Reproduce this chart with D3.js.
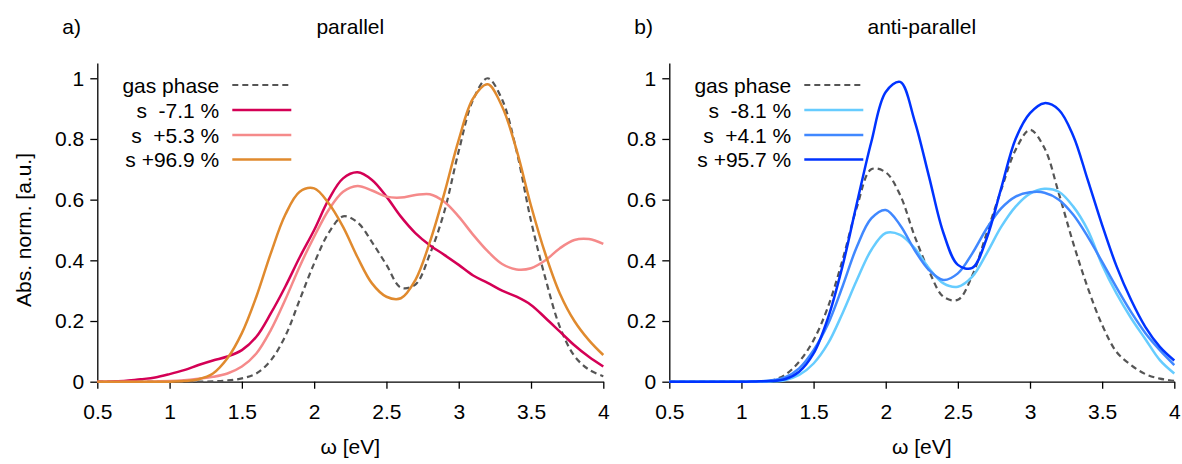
<!DOCTYPE html>
<html><head><meta charset="utf-8">
<script src="https://cdn.jsdelivr.net/npm/d3@7"></script>
<style>
body{margin:0;background:#fff}
text{font-family:"Liberation Sans",Arial,Helvetica,sans-serif;fill:#000}
</style>
</head><body>
<svg id="chart" width="1182" height="464"></svg>
<script>
// ---------- data ----------
const omega = [0.5,0.6,0.7,0.8,0.9,1.0,1.1,1.2,1.3,1.4,1.5,1.6,1.7,1.8,1.9,2.0,2.1,2.2,2.3,2.4,2.5,2.6,2.7,2.8,2.9,3.0,3.1,3.2,3.3,3.4,3.5,3.6,3.7,3.8,3.9,4.0];

const xTicks = [0.5,1,1.5,2,2.5,3,3.5,4];
const xTickLabels = ["0.5","1","1.5","2","2.5","3","3.5","4"];
const yTicks = [0,0.2,0.4,0.6,0.8,1];
const yTickLabels = ["0","0.2","0.4","0.6","0.8","1"];

// panel a) parallel
const parGas  = [0,0,0,0,0,0,0,0.0005,0.001,0.004,0.011,0.027,0.07,0.15,0.27,0.39,0.49,0.545,0.525,0.46,0.385,0.31,0.32,0.42,0.56,0.76,0.93,1.0,0.93,0.76,0.53,0.34,0.18,0.085,0.04,0.018];
const parM71  = [0,0.001,0.003,0.008,0.014,0.025,0.038,0.055,0.07,0.083,0.104,0.148,0.225,0.313,0.41,0.50,0.60,0.67,0.69,0.665,0.61,0.544,0.49,0.45,0.418,0.385,0.35,0.326,0.30,0.28,0.253,0.21,0.165,0.12,0.082,0.05];
const parP53  = [0,0,0,0,0.001,0.002,0.005,0.01,0.016,0.027,0.05,0.093,0.17,0.27,0.38,0.478,0.566,0.626,0.645,0.63,0.61,0.607,0.615,0.618,0.593,0.544,0.484,0.43,0.388,0.37,0.374,0.40,0.44,0.467,0.47,0.454];
const parP969 = [0,0,0,0,0,0,0.002,0.008,0.027,0.077,0.16,0.28,0.423,0.55,0.626,0.637,0.588,0.51,0.41,0.324,0.28,0.275,0.335,0.46,0.62,0.797,0.934,0.98,0.907,0.764,0.58,0.42,0.29,0.2,0.137,0.088];

// panel b) anti-parallel
const antiGas  = [0,0,0,0,0,0,0,0.003,0.022,0.066,0.137,0.247,0.40,0.575,0.70,0.69,0.615,0.48,0.365,0.28,0.27,0.35,0.49,0.632,0.764,0.83,0.77,0.62,0.456,0.31,0.187,0.098,0.055,0.025,0.01,0.003];
const antiM81  = [0,0,0,0,0,0,0,0.001,0.005,0.022,0.06,0.126,0.225,0.335,0.434,0.49,0.484,0.44,0.374,0.324,0.313,0.346,0.423,0.51,0.577,0.62,0.636,0.626,0.577,0.50,0.385,0.29,0.21,0.14,0.071,0.027];
const antiP41  = [0,0,0,0,0,0,0.001,0.004,0.014,0.044,0.104,0.19,0.313,0.445,0.538,0.566,0.516,0.434,0.368,0.335,0.357,0.423,0.505,0.571,0.61,0.624,0.623,0.60,0.55,0.478,0.395,0.31,0.23,0.16,0.104,0.055];
const antiP957 = [0,0,0,0,0,0,0.001,0.002,0.008,0.033,0.093,0.21,0.38,0.588,0.79,0.955,0.988,0.86,0.676,0.49,0.385,0.375,0.473,0.637,0.80,0.885,0.918,0.896,0.81,0.665,0.516,0.38,0.27,0.18,0.115,0.07];

const parLabels  = ["gas phase","s  -7.1 %","s  +5.3 %","s +96.9 %"];
const antiLabels = ["gas phase","s  -8.1 %","s  +4.1 %","s +95.7 %"];
const parColors  = ["#555555","#d40055","#f58a8a","#e08a2e"];
const antiColors = ["#555555","#66ccff","#4088ff","#0033ff"];

// ---------- drawing ----------
const svg = d3.select("#chart");
const FS = 21;
const y = d3.scaleLinear().domain([0,1.05]).range([381.7, 63.1]);

const panels = [
  {x0:97.3, x1:603.3, tag:"a)", title:"parallel", series:[parGas,parM71,parP53,parP969], labels:parLabels, colors:parColors},
  {x0:669.3, x1:1174.3, tag:"b)", title:"anti-parallel", series:[antiGas,antiM81,antiP41,antiP957], labels:antiLabels, colors:antiColors}
];

panels.forEach(p => {
  const x = d3.scaleLinear().domain([0.5,4]).range([p.x0, p.x1]);
  const g = svg.append("g");

  // axes
  const ax = g.append("g").attr("transform", `translate(0,${y(0)})`)
    .call(d3.axisBottom(x).tickValues(xTicks).tickFormat((d,i)=>xTickLabels[i]).tickSizeInner(7).tickSizeOuter(0).tickPadding(15));
  const ay = g.append("g").attr("transform", `translate(${p.x0},0)`)
    .call(d3.axisLeft(y).tickValues(yTicks).tickFormat((d,i)=>yTickLabels[i]).tickSizeInner(7).tickSizeOuter(0).tickPadding(6));
  [ax, ay].forEach(a => {
    a.selectAll("path,line").attr("stroke","#000").attr("stroke-width",1.3);
    a.selectAll("text").attr("font-size",FS).attr("font-family",'"Liberation Sans",Arial,sans-serif').attr("fill","#000");
  });

  // curves
  const line = d3.line().x((d,i)=>x(omega[i])).y(d=>y(d)).curve(d3.curveCatmullRom.alpha(0.5));
  p.series.forEach((s,k) => {
    g.append("path").datum(s).attr("d", line).attr("fill","none")
      .attr("stroke", p.colors[k]).attr("stroke-width", k===0 ? 2.2 : 2.5)
      .attr("stroke-dasharray", k===0 ? "6,4" : null);
  });

  // legend
  const rowY = [85, 110, 135, 159.5];
  p.labels.forEach((lab,k) => {
    g.append("text").attr("x", p.x0+122).attr("y", rowY[k]).attr("dy","0.36em")
      .attr("text-anchor","end").attr("font-size",FS).style("white-space","pre").text(lab);
    g.append("line").attr("x1", p.x0+135).attr("x2", p.x0+194).attr("y1", rowY[k]).attr("y2", rowY[k])
      .attr("stroke", p.colors[k]).attr("stroke-width", k===0 ? 2.2 : 2.5)
      .attr("stroke-dasharray", k===0 ? "6,4" : null);
  });

  // titles
  g.append("text").attr("x", p.x0-35).attr("y", 34).attr("font-size",FS).text(p.tag);
  g.append("text").attr("x", (p.x0+p.x1)/2).attr("y", 34).attr("text-anchor","middle").attr("font-size",FS).text(p.title);
  g.append("text").attr("x", (p.x0+p.x1)/2).attr("y", 454).attr("text-anchor","middle").attr("font-size",FS).text("ω [eV]");
});

svg.append("text").attr("transform","translate(31,230) rotate(-90)").attr("text-anchor","middle")
  .attr("font-size",FS).text("Abs. norm. [a.u.]");
</script>
</body></html>
